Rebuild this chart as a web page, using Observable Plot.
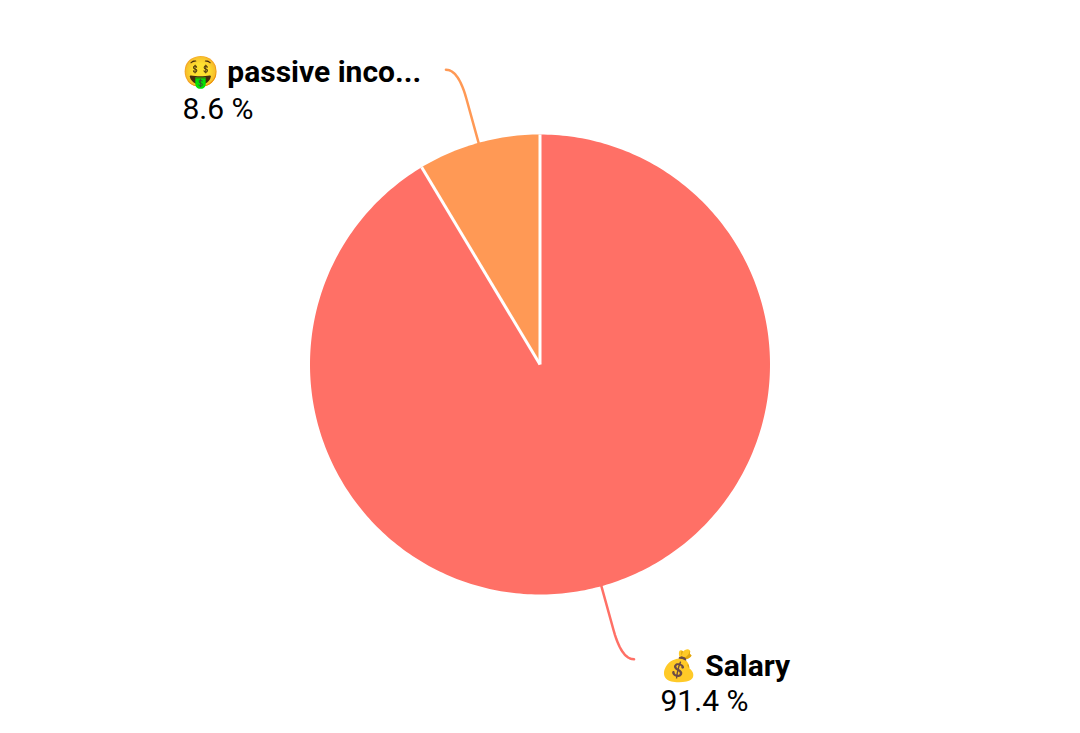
<!DOCTYPE html>
<html>
<head>
<meta charset="utf-8">
<script src="https://cdn.jsdelivr.net/npm/d3@7"></script>
<script src="https://cdn.jsdelivr.net/npm/@observablehq/plot@0.6"></script>
<style>
html,body{margin:0;padding:0;background:#fff;overflow:hidden}
svg{display:block}
</style>
</head>
<body>
<div id="chart"></div>
<script>
const labels = ["Salary", "passive income"];
const shownLabels = ["💰 Salary", "🤑 passive inco..."];
const shares = [91.4, 8.6];
const shownShares = ["91.4 %", "8.6 %"];
const colors = ["#ff7066", "#ff9955"];

const arcs = d3.pie().sort(null)(shares);
const slices = [];
const edges = [];
const leaders = [];
const texts = [];
arcs.forEach((a, i) => {
  const steps = Math.ceil((a.endAngle - a.startAngle) * 60);
  const name = labels[i];
  slices.push({name, x: 0, y: 0});
  d3.range(steps + 1).forEach(k => {
    const t = a.startAngle + (a.endAngle - a.startAngle) * k / steps;
    slices.push({name, x: Math.sin(t), y: Math.cos(t)});
  });
  edges.push({name, x: 0, y: 0}, {name, x: Math.sin(a.startAngle), y: Math.cos(a.startAngle)});
  const mid = (a.startAngle + a.endAngle) / 2;
  const sx = Math.sin(mid), sy = Math.cos(mid), side = Math.sign(sx);
  // leader: radial run out of the slice, then a rounded turn to horizontal
  const p0 = [sx * 1.2, sy * 1.2], c = [sx * 1.33, sy * 1.33], p1 = [c[0] + side * 0.054, c[1]];
  leaders.push({name, x: sx, y: sy});
  d3.range(13).forEach(k => {
    const t = k / 12, u = 1 - t;
    leaders.push({name,
      x: u * u * p0[0] + 2 * u * t * c[0] + t * t * p1[0],
      y: u * u * p0[1] + 2 * u * t * c[1] + t * t * p1[1]});
  });
  texts.push({name, label: shownLabels[i], share: shownShares[i]});
});

const R = 230, cx = 539.5, cy = 364, W = 1080, H = 733;
const labelPos = {
  "Salary": {x: (660 - cx) / R, y1: (cy - 666) / R, y2: (cy - 700.5) / R},
  "passive income": {x: (182 - cx) / R, y1: (cy - 72) / R, y2: (cy - 108.5) / R}
};
const font = "Roboto, 'Noto Color Emoji', sans-serif";

const plot = Plot.plot({
  width: W, height: H,
  margin: 0,
  style: {background: "#fff", fontFamily: font},
  x: {domain: [-cx / R, (W - cx) / R], axis: null},
  y: {domain: [(cy - H) / R, cy / R], axis: null},
  color: {domain: labels, range: colors},
  marks: [
    Plot.line(leaders, {x: "x", y: "y", z: "name", stroke: "name", strokeWidth: 2.5}),
    Plot.line(slices, {x: "x", y: "y", z: "name", fill: "name", stroke: null}),
    Plot.line(edges, {x: "x", y: "y", z: "name", stroke: "#fff", strokeWidth: 3, strokeLinecap: "butt"}),
    Plot.text(texts, {x: d => labelPos[d.name].x, y: d => labelPos[d.name].y1, text: "label", textAnchor: "start", fontSize: 30, fontWeight: 700, fill: "#000"}),
    Plot.text(texts, {x: d => labelPos[d.name].x, y: d => labelPos[d.name].y2, text: "share", textAnchor: "start", fontSize: 30, fontWeight: 400, fill: "#000"})
  ]
});
document.getElementById("chart").append(plot);
</script>
</body>
</html>
